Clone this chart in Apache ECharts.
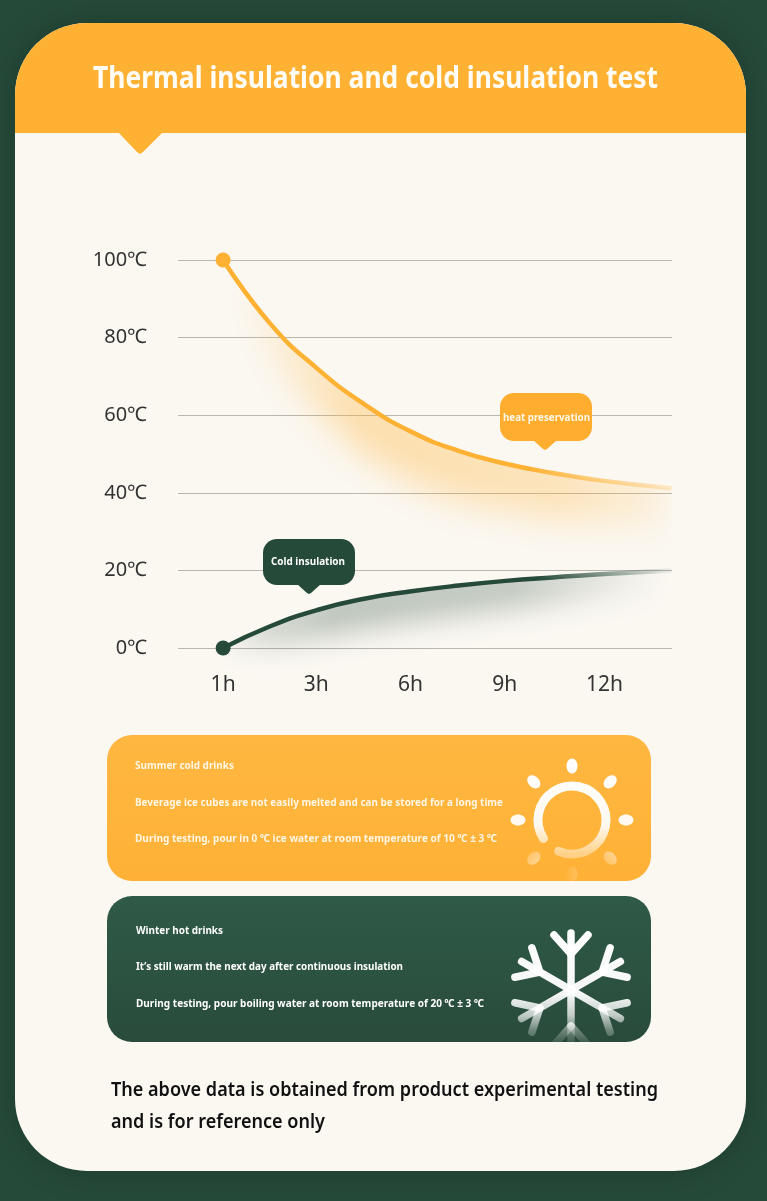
<!DOCTYPE html>
<html><head><meta charset="utf-8">
<style>html,body{margin:0;padding:0;background:#264a3a}#c{width:767px;height:1201px}</style>
<script src="https://cdn.jsdelivr.net/npm/echarts@6/dist/echarts.min.js"></script>
</head><body><div id="c"></div>
<script>
const yTicks = [0,20,40,60,80,100];
const hourLabels = ['1h','3h','6h','9h','12h'];
const hourSlots = [0,0.99,1.99,2.99,4.05];
const heatSlots = [0,0.5,1,1.5,2,2.5,3,3.5,4,4.76];
const heatTemps = [100,83.6,72,62.8,55.7,50.8,47.5,45.1,43.2,41.2];
const coldSlots = [0,0.5,1,1.5,2,2.5,3,3.5,4,4.76];
const coldTemps = [0,5.6,9.8,12.7,14.6,16.1,17.3,18.2,19,20];
const heatGlowDepth = [0,9,12,13,13,13,12,12,11,10];
const coldGlowDepth = [-2,5,7,8,8,8,7.5,7,6,5];
const ORANGE='#ffb133', GREEN='#264a3a', CARD='#fbf8f2', BASE='"Noto Sans","Open Sans",sans-serif';

const mc=document.createElement('canvas').getContext('2d');
function fit(text,x,y,width,size,weight,fill,z){
  mc.font=weight+' '+size+'px "Noto Sans"';
  const s=width/mc.measureText(text).width;
  return {type:'text',x,y,scaleX:s,z:z||5,style:{text,fill,font:weight+' '+size+'px "Noto Sans"',align:'left',verticalAlign:'middle'}};
}
const grad=(x,y,x2,y2,stops)=>new echarts.graphic.LinearGradient(x,y,x2,y2,stops,true);
function bubble(x,y,w,h,r,tipX,tipY,fill){
  return [
    {type:'rect',z:20,shape:{x,y,width:w,height:h,r},style:{fill}},
    {type:'polygon',z:20,shape:{points:[[tipX-12,y+h-1],[tipX+12,y+h-1],[tipX+2,tipY-1],[tipX,tipY],[tipX-2,tipY-1]]},style:{fill}}
  ];
}
function sun(cx,cy){
  const stops=[{offset:0,color:'#fff'},{offset:.55,color:'rgba(255,255,255,.92)'},{offset:.85,color:'rgba(255,255,255,.3)'},{offset:1,color:'rgba(255,255,255,.05)'}];
  const deg=Math.PI/180;
  const out=[{type:'arc',z:5,shape:{cx,cy,r:34,startAngle:147*deg,endAngle:473*deg,clockwise:true},style:{stroke:grad(0,cy-60,0,cy+58,stops),fill:'none',lineWidth:9,lineCap:'round'}}];
  for(let a=0;a<8;a++){
    const t=a*Math.PI/4, R=54, c=Math.cos(t)*R, s=Math.sin(t)*R;
    out.push({type:'ellipse',z:5,x:cx+c,y:cy+s,rotation:-t,shape:{cx:0,cy:0,rx:7.5,ry:5.5},style:{fill:grad(0,-60-s,0,58-s,stops)}});
  }
  return out;
}
function flake(cx,cy){
  const g=grad(0,cy-60,0,cy+58,[{offset:0,color:'#fff'},{offset:.55,color:'rgba(255,255,255,.95)'},{offset:.72,color:'rgba(255,255,255,.72)'},{offset:.85,color:'rgba(255,255,255,.32)'},{offset:1,color:'rgba(255,255,255,0)'}]);
  const out=[];
  const seg=(a,b)=>out.push({type:'line',z:5,shape:{x1:a[0],y1:a[1],x2:b[0],y2:b[1]},style:{stroke:g,lineWidth:7.5,lineCap:'round'}});
  for(let a=0;a<6;a++){
    const t=-Math.PI/2+a*Math.PI/3, u=[Math.cos(t),Math.sin(t)];
    const P=(l,o)=>[cx+u[0]*l-u[1]*o,cy+u[1]*l+u[0]*o];
    seg(P(4,0),P(57,0)); seg(P(36,0),P(55,-17)); seg(P(36,0),P(55,17));
  }
  return out;
}
// Soft glow under a curve: a polygon following the curve, painted off-canvas so only its blurred shadow shows.
function glow(slots,temps,depth,lift,rgb,blur,stops,bottomPx){
  const SHIFT=2000;
  return {type:'custom',silent:true,z:1,clip:false,data:[0],renderItem(p,api){
    const line=slots.map((s,i)=>api.coord([s,temps[i]]));
    const up=slots.map((s,i)=>api.coord([s,temps[i]+lift])).map(q=>[q[0]-SHIFT,q[1]]);
    const low=slots.map((s,i)=>api.coord([s,temps[i]-depth[i]])).map(q=>[q[0]-SHIFT,q[1]]);
    const x0=line[0][0], x1=line[line.length-1][0];
    return {type:'group',
      clipPath:{type:'polygon',shape:{points:line.concat([[x1,bottomPx],[x0,bottomPx]])}},
      children:[{type:'polygon',shape:{points:up.concat(low.reverse())},style:{
        fill:grad(x0-SHIFT,0,x1-SHIFT,0,stops.map(o=>({offset:o[0],color:`rgba(${rgb},${o[1]})`}))),
        shadowBlur:blur,shadowColor:`rgba(${rgb},1)`,shadowOffsetX:SHIFT}}]};
  }};
}
const heatData=heatSlots.map((s,i)=>i===0?{value:[s,heatTemps[i]],symbol:'circle',symbolSize:15}:{value:[s,heatTemps[i]],symbol:'none'});
const coldData=coldSlots.map((s,i)=>i===0?{value:[s,coldTemps[i]],symbol:'circle',symbolSize:15}:{value:[s,coldTemps[i]],symbol:'none'});

const graphics=[
  {type:'rect',z:-10,shape:{x:15,y:23,width:731,height:1148,r:72},style:{fill:CARD,shadowBlur:30,shadowColor:'rgba(10,30,22,.3)'}},
  {type:'rect',z:-9,shape:{x:15,y:23,width:731,height:110,r:[72,72,0,0]},style:{fill:ORANGE}},
  {type:'polygon',z:-9,shape:{points:[[118,132],[163,132],[143,152],[140,154],[137,152]]},style:{fill:ORANGE}},
  fit('Thermal insulation and cold insulation test',93,79,565,30,'700','#fffdf6'),
  {type:'rect',z:-8,shape:{x:107,y:735,width:544,height:146,r:25},style:{fill:grad(0,735,0,881,[{offset:0,color:'#ffb741'},{offset:1,color:'#ffb136'}])}},
  fit('Summer cold drinks',135,766,99,10.5,'700','#fff6e4'),
  fit('Beverage ice cubes are not easily melted and can be stored for a long time',135,803,368,11,'700','#fff6e4'),
  fit('During testing, pour in 0 ℃ ice water at room temperature of 10 ℃ ± 3 ℃',135,839,362,11,'700','#fff6e4'),
  {type:'rect',z:-8,shape:{x:107,y:896,width:544,height:146,r:25},style:{fill:grad(0,896,0,1042,[{offset:0,color:'#2f5a47'},{offset:1,color:'#294b3b'}])}},
  fit('Winter hot drinks',136,931,87,10.5,'700','#ffffff'),
  fit('It’s still warm the next day after continuous insulation',136,967,267,11,'700','#ffffff'),
  fit('During testing, pour boiling water at room temperature of 20 ℃ ± 3 ℃',136,1004,348,11,'700','#ffffff'),
  ...sun(572,820),
  ...flake(571,990),
  fit('The above data is obtained from product experimental testing',111,1090,547,20,'600','#111111'),
  fit('and is for reference only',111,1122,214,20,'600','#111111'),
  ...bubble(500,393,92,48,14,545,450,'#ffad2e'),
  fit('heat preservation',503,418,87,10,'700','#fff8e8',21),
  ...bubble(263,539,92,46,14,309,594,GREEN),
  fit('Cold insulation',271,562,74,10,'700','#ffffff',21)
];

const chart=echarts.init(document.getElementById('c'),null,{renderer:'canvas'});
chart.setOption({
  animation:false,
  backgroundColor:GREEN,
  graphic:{elements:graphics},
  grid:{left:178,right:95,top:260,bottom:553,containLabel:false},
  xAxis:{type:'value',min:-0.479,max:4.766,z:1,
    axisLine:{show:false},axisTick:{show:false},splitLine:{show:false},
    axisLabel:{customValues:hourSlots,margin:27,fontSize:21,color:'#333',fontFamily:BASE,
      formatter:v=>hourLabels[hourSlots.indexOf(v)]}},
  yAxis:{type:'value',min:0,max:100,interval:20,z:1,
    axisLine:{show:false},axisTick:{show:false},
    splitLine:{show:true,lineStyle:{color:'#b8b6ae',width:1}},
    axisLabel:{margin:31,fontSize:20,padding:[6,0,0,0],color:'#333',fontFamily:'"Noto Sans","Noto Sans CJK SC",sans-serif',
      formatter:v=>v+'℃'}},
  series:[
    glow(heatSlots,heatTemps,heatGlowDepth,5,'255,177,51',36,[[0,0],[.06,.1],[.3,.38],[.75,.3],[.9,.18],[1,.1]],560),
    glow(coldSlots,coldTemps,coldGlowDepth,4,'38,74,58',28,[[0,.15],[.25,.3],[.65,.27],[.92,.05],[1,0]],690),
    {type:'line',name:'heat preservation',z:3,clip:false,smooth:.5,showSymbol:true,showAllSymbol:true,data:heatData,
      itemStyle:{color:ORANGE},
      lineStyle:{width:4.5,color:grad(223,0,672,0,[{offset:0,color:ORANGE},{offset:.68,color:ORANGE},{offset:1,color:'rgba(255,200,110,.35)'}])}},
    {type:'line',name:'Cold insulation',z:3,clip:false,smooth:.5,showSymbol:true,showAllSymbol:true,data:coldData,
      itemStyle:{color:GREEN},
      lineStyle:{width:4.5,color:grad(223,0,672,0,[{offset:0,color:GREEN},{offset:.7,color:GREEN},{offset:1,color:'rgba(38,74,58,.05)'}])}}
  ]
});
</script></body></html>
